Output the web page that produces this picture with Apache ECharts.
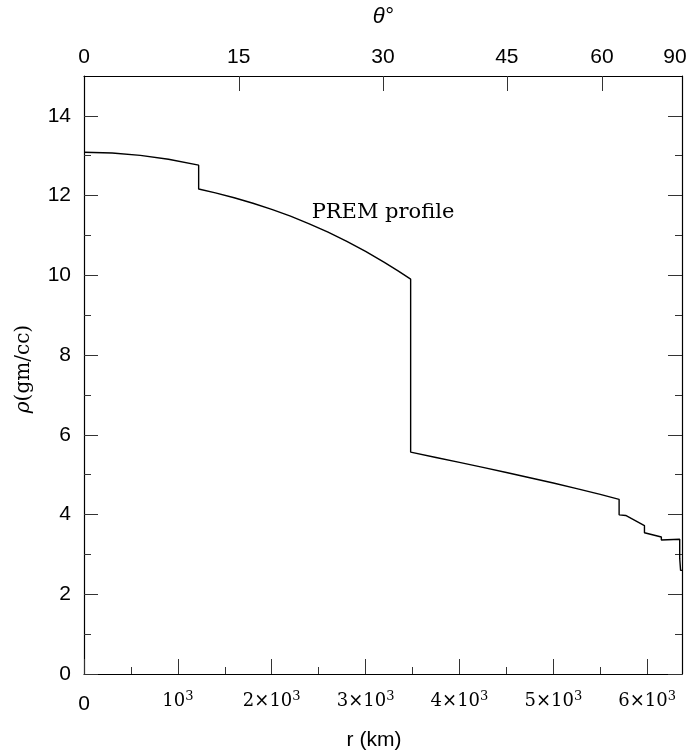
<!DOCTYPE html>
<html><head><meta charset="utf-8">
<script src="https://cdn.jsdelivr.net/npm/echarts@6/dist/echarts.min.js"></script>
<style>html,body{margin:0;padding:0;background:#fff}#c{width:688px;height:750px}</style>
</head><body><div id="c"></div>
<script>
const EARTH_R = 6371;
// PREM density profile (r in km, rho in g/cc)
const radiusKm = [0, 300, 600, 900, 1221.5,
  1221.5, 1400, 1600, 1800, 2000, 2200, 2400, 2600, 2800, 3000, 3200, 3350, 3480,
  3480, 3750, 4000, 4250, 4500, 4750, 5000, 5250, 5500, 5701,
  5701, 5771, 5971,
  5971, 6151,
  6151, 6346.6,
  6346.6, 6356,
  6356, 6371];
const densityGcc = [13.088, 13.069, 13.010, 12.912, 12.764,
  12.166, 12.069, 11.947, 11.809, 11.655, 11.483, 11.293, 11.083, 10.853, 10.602, 10.327, 10.106, 9.903,
  5.567, 5.432, 5.307, 5.182, 5.055, 4.924, 4.790, 4.650, 4.504, 4.381,
  3.992, 3.976, 3.724,
  3.543, 3.436,
  3.360, 3.381,
  2.900, 2.900,
  2.600, 2.600];
const xMajorTicks = [0, 1000, 2000, 3000, 4000, 5000, 6000];
const xMinorTicks = [500, 1500, 2500, 3500, 4500, 5500];
const yMajorTicks = [0, 2, 4, 6, 8, 10, 12, 14];
const yMinorTicks = [1, 3, 5, 7, 9, 11, 13];
const thetaTicksDeg = [0, 15, 30, 45, 60, 90];

const thetaPos = thetaTicksDeg.map(t => EARTH_R * Math.sin(t * Math.PI / 180));
const lineData = radiusKm.map((r, i) => [r, densityGcc[i]]);

const chart = echarts.init(document.getElementById('c'), null, {renderer: 'canvas'});
const AX = '#000', TK = '#333';
const sans = 'Liberation Sans', serif = 'DejaVu Serif';
const gridBox = {left: 84, right: 6, top: 76, bottom: 76, containLabel: false, outerBoundsMode: 'none'};

function minorAxis(extra) {
  return Object.assign({
    type: 'value', gridIndex: 1, axisLine: {show: false}, splitLine: {show: false},
    axisLabel: {show: false}
  }, extra);
}

chart.setOption({
  animation: false,
  backgroundColor: '#fff',
  grid: [Object.assign({}, gridBox), Object.assign({}, gridBox)],
  xAxis: [
    {
      type: 'value', gridIndex: 0, position: 'bottom', min: 0, max: EARTH_R,
      axisLine: {show: true, onZero: false, lineStyle: {color: AX, width: 1.2}},
      splitLine: {show: false},
      axisTick: {show: true, inside: true, length: 15, customValues: xMajorTicks, lineStyle: {color: TK, width: 1}},
      axisLabel: {
        show: true, customValues: xMajorTicks, margin: 16, verticalAlign: 'top',
        formatter: v => v === 0 ? '{z|0}' : '{s|' + (v === 1000 ? '' : (v / 1000) + '×') + '10}{p|3}',
        rich: {
          s: {fontFamily: serif, fontSize: 18, color: '#000'},
          p: {fontFamily: serif, fontSize: 13, color: '#000', padding: [0, 0, 9, 0]},
          z: {fontFamily: sans, fontSize: 21, color: '#000', padding: [4, 0, 0, 0]}
        }
      }
    },
    {
      type: 'value', gridIndex: 0, position: 'top', min: 0, max: EARTH_R,
      axisLine: {show: true, onZero: false, lineStyle: {color: AX, width: 1.2}},
      splitLine: {show: false},
      axisTick: {show: true, inside: true, length: 15, customValues: thetaPos.slice(1, 5), lineStyle: {color: TK, width: 1}},
      axisLabel: {
        show: true, customValues: thetaPos, margin: 8,
        formatter: v => {
          let best = 0;
          thetaPos.forEach((p, i) => { if (Math.abs(p - v) < Math.abs(thetaPos[best] - v)) best = i; });
          const t = String(thetaTicksDeg[best]);
          return best === thetaPos.length - 1 ? '{e|' + t + '}' : '{n|' + t + '}';
        },
        rich: {
          n: {fontFamily: sans, fontSize: 21, color: '#000'},
          e: {fontFamily: sans, fontSize: 21, color: '#000', padding: [0, 14, 0, 0]}
        }
      }
    },
    minorAxis({position: 'bottom', min: 0, max: EARTH_R,
      axisTick: {show: true, inside: true, length: 7, customValues: xMinorTicks, lineStyle: {color: TK, width: 1}}})
  ],
  yAxis: [
    {
      type: 'value', gridIndex: 0, position: 'left', min: 0, max: 15,
      axisLine: {show: true, onZero: false, lineStyle: {color: AX, width: 1.2}},
      splitLine: {show: false},
      axisTick: {show: true, inside: true, length: 14, customValues: yMajorTicks, lineStyle: {color: TK, width: 1}},
      axisLabel: {
        show: true, customValues: yMajorTicks, margin: 13,
        fontFamily: sans, fontSize: 21, color: '#000', padding: [8, 0, 0, 0]
      }
    },
    {
      type: 'value', gridIndex: 0, position: 'right', min: 0, max: 15,
      axisLine: {show: true, onZero: false, lineStyle: {color: AX, width: 1.2}},
      splitLine: {show: false},
      axisTick: {show: true, inside: true, length: 14, customValues: yMajorTicks, lineStyle: {color: TK, width: 1}},
      axisLabel: {show: false}
    },
    minorAxis({position: 'left', min: 0, max: 15,
      axisTick: {show: true, inside: true, length: 7, customValues: yMinorTicks, lineStyle: {color: TK, width: 1}}}),
    minorAxis({position: 'right', min: 0, max: 15,
      axisTick: {show: true, inside: true, length: 7, customValues: yMinorTicks, lineStyle: {color: TK, width: 1}}})
  ],
  series: [{
    type: 'line', xAxisIndex: 0, yAxisIndex: 0, data: lineData,
    showSymbol: false, symbol: 'none', smooth: false, silent: true,
    lineStyle: {color: '#000', width: 1.4}
  }],
  graphic: [
    {type: 'text', x: 383, y: 17, silent: true,
      style: {text: 'θ°', fontFamily: sans, fontStyle: 'italic', fontSize: 22, fill: '#000', align: 'center', verticalAlign: 'middle'}},
    {type: 'text', x: 374, y: 740, silent: true,
      style: {text: 'r (km)', fontFamily: sans, fontSize: 21, fill: '#000', align: 'center', verticalAlign: 'middle'}},
    {type: 'text', x: 24, y: 369, rotation: Math.PI / 2, silent: true,
      style: {text: '{i|ρ}{n|(gm/cc)}', align: 'center', verticalAlign: 'middle', fill: '#000',
        rich: {i: {fontFamily: serif, fontStyle: 'italic', fontSize: 20, fill: '#000'},
               n: {fontFamily: serif, fontSize: 20, fill: '#000'}}}},
    {type: 'text', x: 383, y: 213, silent: true,
      style: {text: 'PREM profile', fontFamily: serif, fontSize: 21, fill: '#000', align: 'center', verticalAlign: 'middle'}}
  ]
});
</script>
</body></html>
